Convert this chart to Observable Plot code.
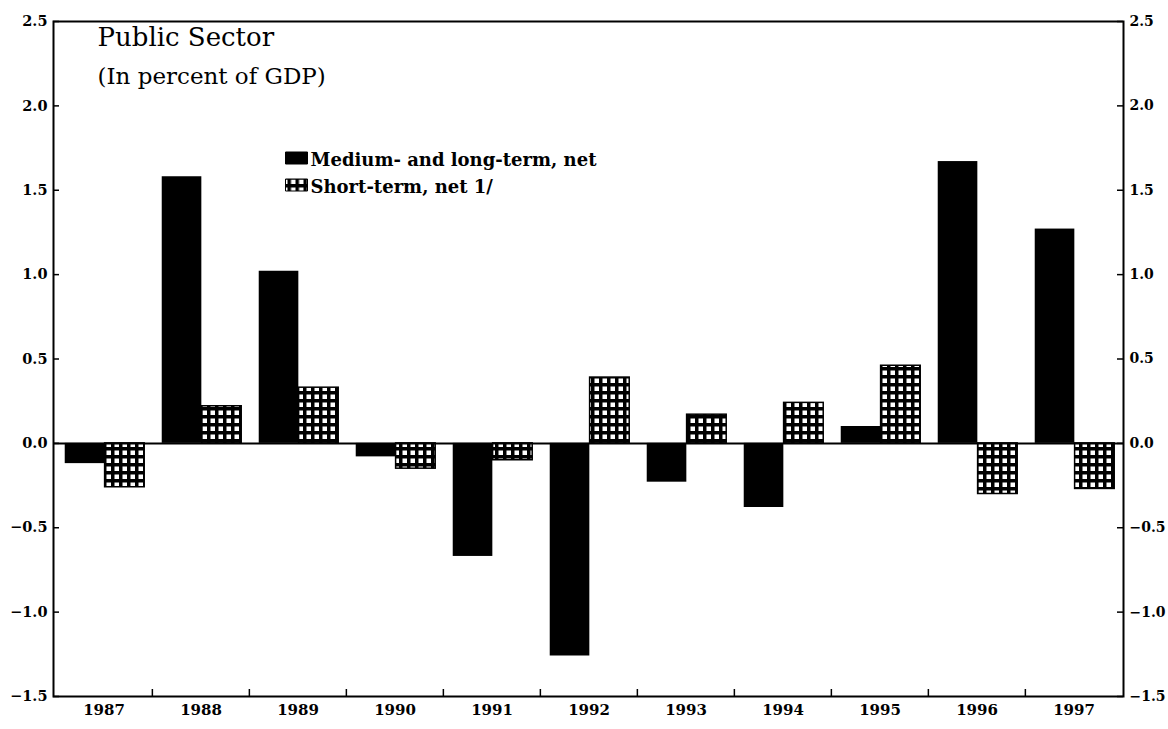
<!DOCTYPE html>
<html><head><meta charset="utf-8">
<script src="https://cdn.jsdelivr.net/npm/d3@7"></script>
<script src="https://cdn.jsdelivr.net/npm/@observablehq/plot@0.6"></script>
<style>body{margin:0;background:#fff}</style>
</head><body><div id="chart"></div>
<script>
// ---- data ----
const years = ["1987","1988","1989","1990","1991","1992","1993","1994","1995","1996","1997"];
const mediumLong = [-0.12, 1.58, 1.02, -0.08, -0.67, -1.26, -0.23, -0.38, 0.10, 1.67, 1.27];
const shortTerm  = [-0.26, 0.22, 0.33, -0.15, -0.10, 0.39, 0.17, 0.24, 0.46, -0.30, -0.27];
const seriesNames = ["Medium- and long-term, net", "Short-term, net 1/"];
const yTicks = [-1.5, -1.0, -0.5, 0.0, 0.5, 1.0, 1.5, 2.0, 2.5];
const titleText = "Public Sector";
const subtitleText = "(In percent of GDP)";

const rows = years.flatMap((yr, i) => [
  {year: yr, series: seriesNames[0], value: mediumLong[i]},
  {year: yr, series: seriesNames[1], value: shortTerm[i]}
]);

// ---- layout ----
const W = 1168, H = 729, ml = 53, mr = 45, mt = 21, mb = 33;
const bw = (W - ml - mr) / years.length;
const innerW = W - ml - mr, innerH = H - mt - mb;
const serif = "'DejaVu Serif', 'Liberation Serif', serif";
const fills = {[seriesNames[0]]: "#000", [seriesNames[1]]: "url(#grid)"};
const rectSymbol = {draw(ctx) { ctx.rect(-11, -6, 22, 12); }};

const plot = Plot.plot({
  width: W, height: H,
  marginLeft: ml, marginRight: mr, marginTop: mt, marginBottom: mb,
  style: {fontFamily: serif, background: "#fff", color: "#000", overflow: "visible"},
  x: {domain: years, padding: 0, axis: null},
  y: {domain: [-1.5, 2.5], axis: null},
  marks: [
    Plot.barY(rows.filter(d => d.series === seriesNames[0]),
      {x: "year", y: "value", fill: "#000", insetLeft: bw * 0.10, insetRight: bw * 0.49}),
    Plot.barY(rows.filter(d => d.series === seriesNames[1]),
      {x: "year", y: "value", fill: "url(#grid)", stroke: "#000", strokeWidth: 1.5,
       insetLeft: bw * 0.51, insetRight: bw * 0.08}),
    Plot.ruleY([0], {stroke: "#000", strokeWidth: 2}),
    Plot.frame({stroke: "#000", strokeWidth: 2}),
    // inward y ticks, left and right
    Plot.ruleY(yTicks, {stroke: "#000", strokeWidth: 1.5, insetRight: innerW - 6}),
    Plot.ruleY(yTicks, {stroke: "#000", strokeWidth: 1.5, insetLeft: innerW - 6}),
    // inward x ticks at band boundaries
    Plot.ruleX(years.slice(1), {x: d => d, dx: -bw / 2, stroke: "#000", strokeWidth: 1.5, insetTop: innerH - 7}),
    Plot.axisY(yTicks, {anchor: "left", tickSize: 0, tickPadding: 6, tickFormat: d3.format(".1f"),
      fontSize: 14.5, fontWeight: "bold", label: null}),
    Plot.axisY(yTicks, {anchor: "right", tickSize: 0, tickPadding: 6, tickFormat: d3.format(".1f"),
      fontSize: 14, fontWeight: "bold", label: null}),
    Plot.axisX(years, {anchor: "bottom", tickSize: 0, tickPadding: 8, fontSize: 15, fontWeight: "bold", label: null}),
    // title inside frame
    Plot.text([titleText], {frameAnchor: "top-left", text: d => d, dx: 44, dy: 24, lineAnchor: "bottom",
      textAnchor: "start", fontSize: 26}),
    Plot.text([subtitleText], {frameAnchor: "top-left", text: d => d, dx: 44, dy: 62, lineAnchor: "bottom",
      textAnchor: "start", fontSize: 23}),
    // legend
    ...seriesNames.flatMap((name, i) => [
      Plot.dot([name], {frameAnchor: "top-left", dx: 243, dy: 136.5 + i * 27, symbol: rectSymbol,
        fill: fills[name], stroke: "#000", strokeWidth: 1}),
      Plot.text([name], {frameAnchor: "top-left", text: d => d, dx: 257, dy: 144 + i * 27, lineAnchor: "bottom",
        textAnchor: "start", fontSize: 18, fontWeight: "bold"})
    ])
  ]
});

const svg = d3.select(plot);
const defs = svg.insert("defs", ":first-child");
const pat = defs.append("pattern").attr("id", "grid").attr("patternUnits", "userSpaceOnUse")
  .attr("width", 8).attr("height", 8);
pat.append("rect").attr("width", 8).attr("height", 8).attr("fill", "#000");
pat.append("rect").attr("x", 2.5).attr("y", 2.5).attr("width", 4.5).attr("height", 4.5).attr("fill", "#fff");

document.getElementById("chart").append(plot);
</script>
</body></html>
